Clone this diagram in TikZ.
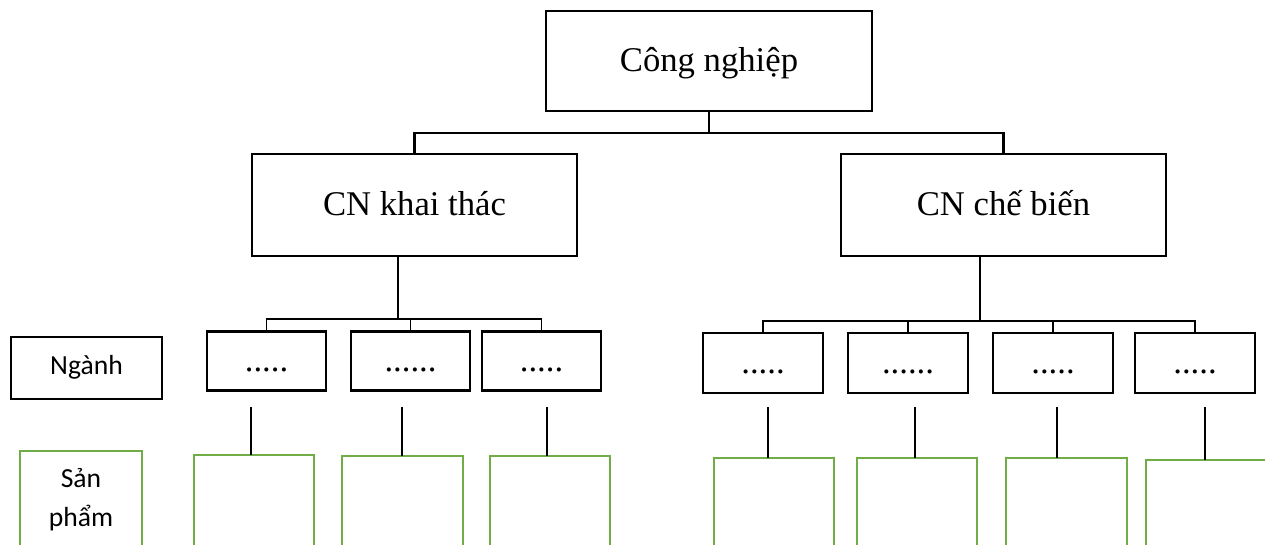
\documentclass[tikz,border=0pt]{standalone}
\usepackage{fontspec}
\setmainfont{Liberation Serif}
\newfontfamily\calibri{Carlito}
\definecolor{leaf}{HTML}{70AD47}
\begin{document}
\begin{tikzpicture}[x=0.75pt,y=-0.75pt,
  pxbox/.style 2 args={minimum width=#1*0.75pt, minimum height=#2*0.75pt},
  blk/.style={draw=black, line width=1.6pt, rectangle, inner sep=0pt, outer sep=0pt},
  grn/.style={draw=leaf, line width=1.5pt, rectangle, inner sep=0pt, outer sep=0pt},
  serif/.style={font=\fontsize{26}{30}\selectfont, text height=17pt, text depth=1.5pt},
  sans/.style={font=\calibri\fontsize{20.7}{25}\selectfont},
  trunk/.style={draw=black, line width=1.6pt},
  bracket/.style={draw=black, line width=1.3pt},
  stem/.style={draw=black, line width=0.8pt}
]
\useasboundingbox (0,0) rectangle (1265,545);
\clip (0,0) rectangle (1265,545);

% top level
\node[blk, serif, pxbox={326}{100}] (top) at (709,61) {Công nghiệp};
\node[blk, serif, pxbox={325}{102}] (kt) at (414.5,205) {CN khai thác};
\node[blk, serif, pxbox={325}{102}] (cb) at (1003.5,205) {CN chế biến};

\coordinate (j0) at (709,133);
\draw[trunk] (top.south) -- (j0);
\draw[trunk] (kt.north) |- (j0) -| (cb.north);

% row labels
\node[blk, sans, text height=12pt, text depth=1.5pt, pxbox={151}{62}] (nganh) at (86.5,368) {Ngành};
\node[grn, pxbox={122}{140}, anchor=north] (sp) at (81,451) {};
\node[sans, anchor=base] (sp1) at (81,488) {Sản};
\node[sans, anchor=base] (sp2) at (81,527) {phẩm};

% branches of CN khai thác
\node[blk, serif, pxbox={119}{59}] (a1) at (266.5,361) {.....};
\node[blk, serif, pxbox={119}{59}] (a2) at (410.5,361) {......};
\node[blk, serif, pxbox={119}{59}] (a3) at (541.5,361) {.....};
\coordinate (kd) at (398,256);
\coordinate (kj) at (398,319);
\draw[trunk] (kd) -- (kj);
\draw[bracket] (a1.north) |- (kj) -| (a3.north);
\draw[bracket] (a2.north) -- (a2.north |- kj);

% branches of CN chế biến
\node[blk, serif, pxbox={120}{60}] (b1) at (763,363) {.....};
\node[blk, serif, pxbox={120}{60}] (b2) at (908,363) {......};
\node[blk, serif, pxbox={120}{60}] (b3) at (1053,363) {.....};
\node[blk, serif, pxbox={120}{60}] (b4) at (1195,363) {.....};
\coordinate (cd) at (980,256);
\coordinate (cj) at (980,321);
\draw[trunk] (cd) -- (cj);
\draw[bracket] (b1.north) |- (cj) -| (b4.north);
\draw[bracket] (b2.north) -- (b2.north |- cj);
\draw[bracket] (b3.north) -- (b3.north |- cj);

% product boxes
\node[grn, pxbox={120}{130}, anchor=north] (g1) at (254,455) {};
\node[grn, pxbox={121}{130}, anchor=north] (g2) at (402.5,456) {};
\node[grn, pxbox={120}{130}, anchor=north] (g3) at (550,456) {};
\node[grn, pxbox={120}{130}, anchor=north] (h1) at (774,458) {};
\node[grn, pxbox={120}{130}, anchor=north] (h2) at (917,458) {};
\node[grn, pxbox={121}{130}, anchor=north] (h3) at (1066.5,458) {};
\node[grn, pxbox={120}{130}, anchor=north] (h4) at (1206,460) {};

% stems above the product boxes
\coordinate (s1) at (251,407);
\coordinate (s2) at (402,407);
\coordinate (s3) at (547,407);
\coordinate (t1) at (768,407);
\coordinate (t2) at (915,407);
\coordinate (t3) at (1057,407);
\coordinate (t4) at (1205,407);
\draw[stem] (s1) -- (s1 |- g1.north);
\draw[stem] (s2) -- (s2 |- g2.north);
\draw[stem] (s3) -- (s3 |- g3.north);
\draw[stem] (t1) -- (t1 |- h1.north);
\draw[stem] (t2) -- (t2 |- h2.north);
\draw[stem] (t3) -- (t3 |- h3.north);
\draw[stem] (t4) -- (t4 |- h4.north);
\end{tikzpicture}
\end{document}
